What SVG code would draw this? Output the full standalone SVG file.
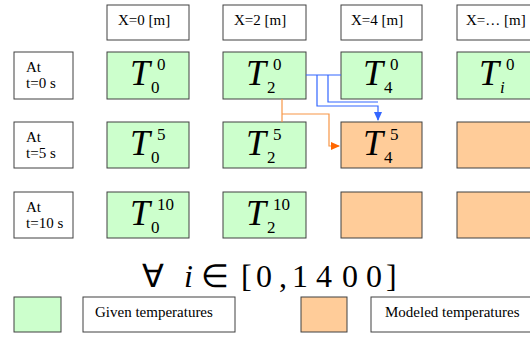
<svg xmlns="http://www.w3.org/2000/svg" width="530" height="337" viewBox="0 0 530 337">
<defs>
<style>
.box{stroke:#404040;stroke-width:1}
.w{fill:#ffffff}
.g{fill:#ccffcc}
.o{fill:#ffcc99}
.lbl{font-family:"Liberation Serif","Times New Roman",serif;font-size:15px;fill:#000}
.T{font-family:"Liberation Serif","Times New Roman",serif;font-style:italic;font-size:36px;fill:#000}
.s{font-family:"Liberation Serif","Times New Roman",serif;font-size:17px;fill:#000}
.si{font-family:"Liberation Serif","Times New Roman",serif;font-style:italic;font-size:17px;fill:#000}
.m{font-family:"Liberation Serif","Times New Roman",serif;font-size:32px;fill:#000}
.bl{fill:none;stroke:#3366ff;stroke-width:1.2}
.ol{fill:none;stroke:#f79646;stroke-width:1.2}
</style>
<marker id="ab" markerWidth="10" markerHeight="10" refX="8" refY="5" orient="auto" markerUnits="userSpaceOnUse"><path d="M0,1 L9,5 L0,9 Z" fill="#3366ff"/></marker>
<marker id="ao" markerWidth="10" markerHeight="10" refX="8" refY="5" orient="auto" markerUnits="userSpaceOnUse"><path d="M0,1 L9,5 L0,9 Z" fill="#ff6600"/></marker>
</defs>
<rect width="530" height="337" fill="#ffffff"/>

<g id="h0"><rect class="box w" x="107" y="5" width="82" height="35"/><text class="lbl" x="118" y="25">X=0 [m]</text></g>
<g id="h2"><rect class="box w" x="223" y="5" width="83" height="35"/><text class="lbl" x="234" y="25">X=2 [m]</text></g>
<g id="h4"><rect class="box w" x="341" y="5" width="81" height="35"/><text class="lbl" x="351" y="25">X=4 [m]</text></g>
<g id="hi"><rect class="box w" x="457" y="5" width="82" height="35"/><text class="lbl" x="466" y="25">X=… [m]</text></g>

<g id="t0"><rect class="box w" x="14" y="52" width="59" height="47"/><text class="lbl" x="26" y="72">At</text><text class="lbl" x="26" y="88">t=0 s</text></g>
<g id="t5"><rect class="box w" x="14" y="122" width="59" height="46"/><text class="lbl" x="26" y="142">At</text><text class="lbl" x="26" y="158">t=5 s</text></g>
<g id="t10"><rect class="box w" x="14" y="192" width="59" height="46"/><text class="lbl" x="26" y="212">At</text><text class="lbl" x="26" y="228">t=10 s</text></g>

<g id="T00"><rect class="box g" x="107" y="52" width="82" height="47"/><text class="T" x="130" y="85">T</text><text class="s" x="157" y="70">0</text><text class="s" x="151" y="93">0</text></g>
<g id="T20"><rect class="box g" x="223" y="52" width="83" height="47"/><text class="T" x="246" y="85">T</text><text class="s" x="273" y="70">0</text><text class="s" x="267" y="93">2</text></g>
<g id="T40"><rect class="box g" x="341" y="52" width="81" height="47"/><text class="T" x="363" y="85">T</text><text class="s" x="390" y="70">0</text><text class="s" x="384" y="93">4</text></g>
<g id="Ti0"><rect class="box g" x="457" y="52" width="82" height="47"/><text class="T" x="479" y="85">T</text><text class="s" x="506" y="70">0</text><text class="si" x="500" y="93">i</text></g>

<g id="T05"><rect class="box g" x="107" y="122" width="82" height="46"/><text class="T" x="130" y="155">T</text><text class="s" x="157" y="140">5</text><text class="s" x="151" y="163">0</text></g>
<g id="T25"><rect class="box g" x="223" y="122" width="83" height="46"/><text class="T" x="246" y="155">T</text><text class="s" x="273" y="140">5</text><text class="s" x="267" y="163">2</text></g>
<g id="T45"><rect class="box o" x="341" y="122" width="81" height="46"/><text class="T" x="363" y="155">T</text><text class="s" x="390" y="140">5</text><text class="s" x="384" y="163">4</text></g>
<g id="Ti5"><rect class="box o" x="457" y="122" width="82" height="46"/></g>

<g id="T010"><rect class="box g" x="107" y="192" width="82" height="46"/><text class="T" x="130" y="225">T</text><text class="s" x="157" y="210">10</text><text class="s" x="151" y="233">0</text></g>
<g id="T210"><rect class="box g" x="223" y="192" width="83" height="46"/><text class="T" x="246" y="225">T</text><text class="s" x="273" y="210">10</text><text class="s" x="267" y="233">2</text></g>
<g id="T410"><rect class="box o" x="341" y="192" width="81" height="46"/></g>
<g id="Ti10"><rect class="box o" x="457" y="192" width="82" height="46"/></g>

<g id="connectors">
<path class="bl" d="M306,75 H341"/>
<path class="bl" d="M317,75 V106 H378 V120" marker-end="url(#ab)"/>
<path class="bl" d="M328,75 V102 H378"/>
<path class="ol" d="M282,99 V122"/>
<path class="ol" d="M282,114 H329 V146 H339" marker-end="url(#ao)"/>
</g>

<g id="formula">
<text class="m" x="142" y="287">∀</text>
<text class="m" x="184" y="287" font-style="italic">i</text>
<text class="m" x="201" y="287">∈</text>
<text class="m" x="241" y="287">[</text>
<text class="m" x="256" y="287">0</text>
<text class="m" x="279" y="287">,</text>
<text class="m" x="292" y="287">1</text>
<text class="m" x="316" y="287">4</text>
<text class="m" x="342" y="287">0</text>
<text class="m" x="366" y="287">0</text>
<text class="m" x="386" y="287">]</text>
</g>

<g id="legend-given"><rect class="box g" x="14" y="297" width="47" height="35"/><rect class="box w" x="83" y="297" width="152" height="35"/><text class="lbl" x="95" y="317">Given temperatures</text></g>
<g id="legend-modeled"><rect class="box o" x="301" y="297" width="46" height="35"/><rect class="box w" x="371" y="297" width="165" height="35"/><text class="lbl" x="385" y="317">Modeled temperatures</text></g>
</svg>
